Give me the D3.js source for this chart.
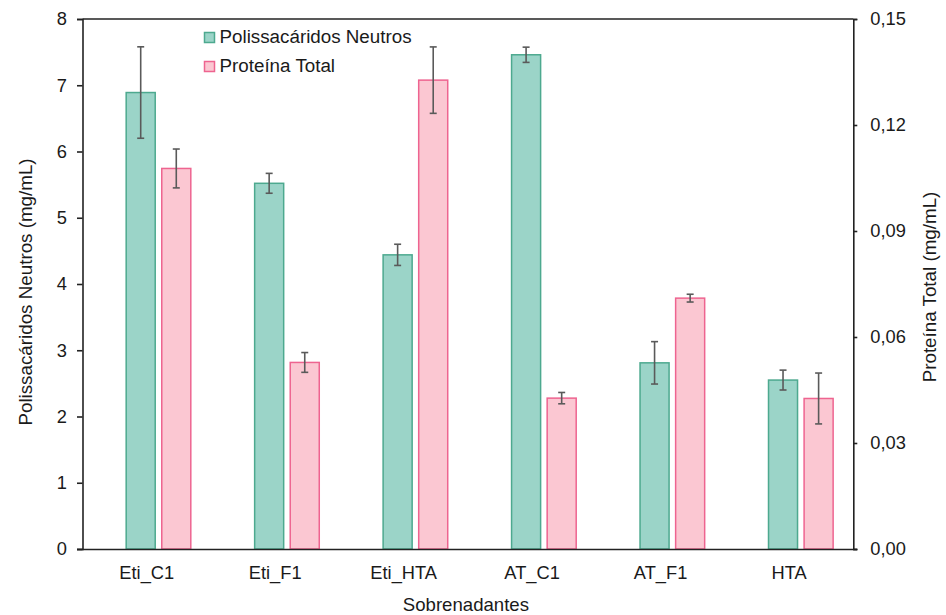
<!DOCTYPE html>
<html><head><meta charset="utf-8">
<script src="https://cdn.jsdelivr.net/npm/d3@7"></script>
<style>
html,body{margin:0;padding:0;background:#fff;}
text{font-family:"Liberation Sans",Arial,sans-serif;fill:#1a1a1a;}
</style></head>
<body>
<svg id="chart" width="946" height="615"></svg>
<script>
const categories = ["Eti_C1","Eti_F1","Eti_HTA","AT_C1","AT_F1","HTA"];
const polissacaridos = [6.89, 5.52, 4.44, 7.46, 2.81, 2.55];
const polissacaridosErr = [0.69, 0.15, 0.16, 0.115, 0.32, 0.15];
const proteina = [0.1077, 0.0528, 0.1327, 0.0427, 0.0710, 0.0426];
const proteinaErr = [0.0055, 0.0028, 0.0094, 0.0016, 0.0011, 0.0072];
const leftTicks = [0,1,2,3,4,5,6,7,8];
const rightTicks = [0,0.03,0.06,0.09,0.12,0.15];
const seriesNames = ["Polissacáridos Neutros","Proteína Total"];
const leftTitle = "Polissacáridos Neutros (mg/mL)";
const rightTitle = "Proteína Total (mg/mL)";
const xTitle = "Sobrenadantes";

const svg = d3.select("#chart");
const L = 82.5, R = 853.3, T = 19, B = 549;
const x = d3.scaleBand().domain(categories).range([L, R]).padding(0);
const yL = d3.scaleLinear().domain([0, 8]).range([B, T]);
const yR = d3.scaleLinear().domain([0, 0.15]).range([B, T]);
const bw = x.bandwidth();
const barW = 0.226 * bw;
const gOff = -0.16 * bw, pOff = 0.117 * bw;

const green = {fill:"#9BD4C8", stroke:"#4DA98F"};
const pink = {fill:"#FBC7D2", stroke:"#EE6490"};
const errColor = "#5a5a5a";
const fs = 18.3;

// bars
function drawBars(vals, errs, scale, off, col){
  const g = svg.append("g");
  g.selectAll("rect").data(vals).join("rect")
    .attr("x", (d,i)=> x(categories[i]) + bw/2 + off)
    .attr("y", d=> scale(d))
    .attr("width", barW)
    .attr("height", d=> B - scale(d))
    .attr("fill", col.fill).attr("stroke", col.stroke).attr("stroke-width", 1.5);
  const e = svg.append("g").attr("stroke", errColor).attr("stroke-width", 1.6);
  vals.forEach((v,i)=>{
    const cx = x(categories[i]) + bw/2 + off + barW/2;
    const y1 = scale(v + errs[i]), y2 = scale(v - errs[i]);
    e.append("line").attr("x1",cx).attr("x2",cx).attr("y1",y1).attr("y2",y2);
    e.append("line").attr("x1",cx-3.5).attr("x2",cx+3.5).attr("y1",y1).attr("y2",y1);
    e.append("line").attr("x1",cx-3.5).attr("x2",cx+3.5).attr("y1",y2).attr("y2",y2);
  });
}
drawBars(polissacaridos, polissacaridosErr, yL, gOff, green);
drawBars(proteina, proteinaErr, yR, pOff, pink);

// axes
const axisColor = "#222";
const leftAxis = svg.append("g").attr("transform", `translate(${L},0)`)
  .call(d3.axisLeft(yL).tickValues(leftTicks).tickSize(5.5).tickPadding(10).tickFormat(d3.format("d")));
const rightAxis = svg.append("g").attr("transform", `translate(${R},0)`)
  .call(d3.axisRight(yR).tickValues(rightTicks).tickSize(4).tickPadding(13)
    .tickFormat(d => d3.format(".2f")(d).replace(".", ",")));
const bottomAxis = svg.append("g").attr("transform", `translate(0,${B})`)
  .call(d3.axisBottom(x).tickSize(0).tickPadding(17));
[leftAxis, rightAxis, bottomAxis].forEach(a=>{
  a.selectAll("path").attr("stroke", axisColor).attr("stroke-width", 1.6);
  a.selectAll("line").attr("stroke", axisColor).attr("stroke-width", 1.6);
  a.selectAll("text").attr("font-size", fs).attr("fill", "#1a1a1a")
    .style("font-family", '"Liberation Sans", Arial, sans-serif');
});
bottomAxis.select("path").attr("d", `M${L-5.5},0.5H${R+4}`);
// top border
svg.append("line").attr("x1", L).attr("x2", R).attr("y1", T).attr("y2", T)
  .attr("stroke", axisColor).attr("stroke-width", 1.6);

// titles
svg.append("text").attr("transform", `translate(31.5,${(T+B)/2 + 8}) rotate(-90)`)
  .attr("text-anchor","middle").attr("font-size", 18.8).text(leftTitle);
svg.append("text").attr("transform", `translate(936,${(T+B)/2 + 3}) rotate(-90)`)
  .attr("text-anchor","middle").attr("font-size", 18.8).text(rightTitle);
svg.append("text").attr("x", (L+R)/2 - 2).attr("y", 610.5)
  .attr("text-anchor","middle").attr("font-size", 18.6).text(xTitle);

// legend
const legend = svg.append("g");
[green, pink].forEach((c,i)=>{
  const yy = 32.5 + i*29;
  legend.append("rect").attr("x", 204.5).attr("y", yy).attr("width", 10).attr("height", 10)
    .attr("fill", c.fill).attr("stroke", c.stroke).attr("stroke-width", 1.5);
  legend.append("text").attr("x", 219.5).attr("y", yy + 10.5).attr("font-size", 18.8).text(seriesNames[i]);
});
</script>
</body></html>
